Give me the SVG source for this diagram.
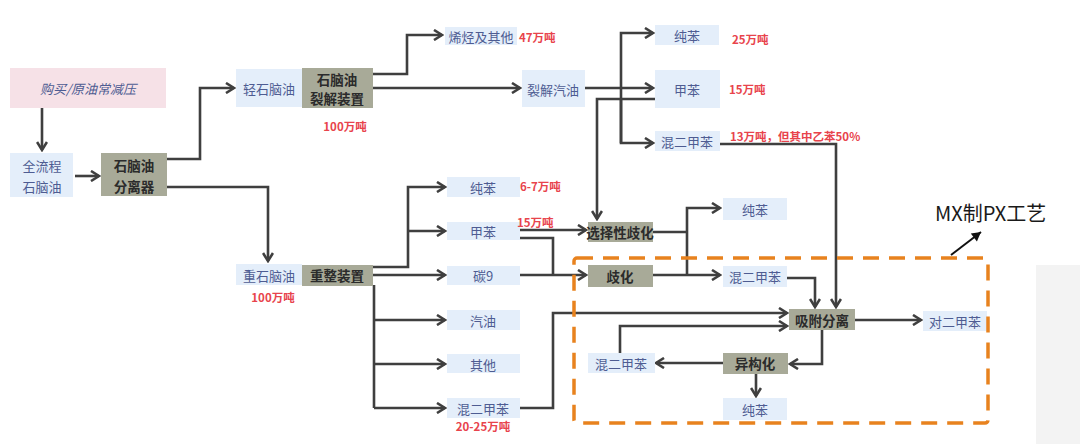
<svg xmlns="http://www.w3.org/2000/svg" width="1080" height="444" viewBox="0 0 1080 444">
<style>
.lb{fill:#e4eefa}
.gb{fill:#a8aa98}
.pk{fill:#f6e1e7}
.t{font-family:"Noto Sans CJK SC","Noto Sans",sans-serif;font-size:13px;fill:#4e5c92;text-anchor:middle;dominant-baseline:central}
.tg{font-family:"Noto Sans CJK SC","Noto Sans",sans-serif;font-size:13.5px;font-weight:bold;fill:#2b2b2b;text-anchor:middle;dominant-baseline:central}
.r{font-family:"Noto Sans CJK SC","Noto Sans",sans-serif;font-size:11.5px;font-weight:bold;fill:#e8434c;dominant-baseline:central}
.c{fill:none;stroke:#3f3f3f;stroke-width:2.6;stroke-linejoin:miter}
.a{marker-end:url(#ah)}
</style>
<defs>
<marker id="ah" markerUnits="userSpaceOnUse" viewBox="0 0 12 12" refX="10" refY="6" markerWidth="12" markerHeight="12" orient="auto">
<path d="M2,1 L10,6 L2,11" fill="none" stroke="#3f3f3f" stroke-width="2.6"/>
</marker>
<marker id="ahk" markerUnits="userSpaceOnUse" viewBox="0 0 12 12" refX="10" refY="6" markerWidth="12" markerHeight="12" orient="auto">
<path d="M1,1 L10,6 L1,11 Z" fill="#111"/>
</marker>
</defs>
<rect x="0" y="0" width="1080" height="444" fill="#ffffff"/>
<rect x="1036" y="265" width="44" height="179" fill="#f3f3f3"/>

<g id="connectors">
<path class="c a" d="M42,108 V150"/>
<path class="c a" d="M75,176 H99"/>
<path class="c a" d="M167,159 H200 V88 H234"/>
<path class="c a" d="M167,187 H268 V261"/>
<path class="c a" d="M373,74 H407 V35 H442"/>
<path class="c a" d="M373,88 H520"/>
<path class="c a" d="M585,88 H653"/>
<path class="c a" d="M621,143 V33 H653"/>
<path class="c a" d="M621,100 V143 H653"/>
<path class="c a" d="M655,99 H597 V219"/>
<path class="c a" d="M720,144 H836 V307"/>
<path class="c a" d="M373,267 H408 V187 H445"/>
<path class="c a" d="M408,231 H445"/>
<path class="c a" d="M373,275 H445"/>
<path class="c" d="M374,285 V408"/>
<path class="c a" d="M374,320 H445"/>
<path class="c a" d="M374,364 H445"/>
<path class="c a" d="M374,408 H445"/>
<path class="c a" d="M520,230 H586"/>
<path class="c" d="M520,238 H553 V275"/>
<path class="c a" d="M520,275 H586"/>
<path class="c" d="M653,232 H687"/>
<path class="c a" d="M687,275 V208 H720"/>
<path class="c a" d="M653,275 H720"/>
<path class="c a" d="M787,278 H815 V307"/>
<path class="c a" d="M520,408 H553 V313 H787"/>
<path class="c a" d="M620,353 V326 H787"/>
<path class="c a" d="M855,320 H921"/>
<path class="c a" d="M822,330 V364 H790"/>
<path class="c a" d="M723,363 H656"/>
<path class="c a" d="M756,374 V396"/>
</g>

<g id="n_src"><rect class="pk" x="10" y="68" width="156" height="40"/><text class="t" x="88" y="88" font-style="italic" font-size="14">购买/原油常减压</text></g>
<g id="n_full"><rect class="lb" x="10" y="153" width="63" height="44"/><text class="t" x="42" y="165">全流程</text><text class="t" x="42" y="186">石脑油</text></g>
<g id="n_sep"><rect class="gb" x="101" y="153" width="66" height="43"/><text class="tg" x="134" y="165">石脑油</text><text class="tg" x="134" y="186">分离器</text></g>
<g id="n_light"><rect class="lb" x="236" y="69" width="66" height="38"/><text class="t" x="269" y="88">轻石脑油</text></g>
<g id="n_crack"><rect class="gb" x="302" y="68" width="71" height="40"/><text class="tg" x="337" y="79">石脑油</text><text class="tg" x="337" y="98">裂解装置</text><text class="r" x="345" y="126" text-anchor="middle">100万吨</text></g>
<g id="n_olefin"><rect class="lb" x="445" y="27" width="72" height="18"/><text class="t" x="481" y="36">烯烃及其他</text><text class="r" x="519" y="37">47万吨</text></g>
<g id="n_pygas"><rect class="lb" x="522" y="70" width="63" height="37"/><text class="t" x="553" y="89">裂解汽油</text></g>
<g id="n_bz1"><rect class="lb" x="655" y="25" width="64" height="20"/><text class="t" x="687" y="35">纯苯</text><text class="r" x="732" y="39">25万吨</text></g>
<g id="n_tol1"><rect class="lb" x="655" y="70" width="65" height="38"/><text class="t" x="687" y="89">甲苯</text><text class="r" x="729" y="89">15万吨</text></g>
<g id="n_mx1"><rect class="lb" x="655" y="131" width="65" height="20"/><text class="t" x="687" y="141">混二甲苯</text><text class="r" x="730" y="136">13万吨，但其中乙苯50%</text></g>
<g id="n_heavy"><rect class="lb" x="236" y="264" width="66" height="21"/><text class="t" x="269" y="275">重石脑油</text><text class="r" x="273" y="297" text-anchor="middle">100万吨</text></g>
<g id="n_reform"><rect class="gb" x="302" y="265" width="71" height="21"/><text class="tg" x="337" y="275">重整装置</text></g>
<g id="n_bz2"><rect class="lb" x="447" y="177" width="73" height="20"/><text class="t" x="483" y="187">纯苯</text><text class="r" x="520" y="186">6-7万吨</text></g>
<g id="n_tol2"><rect class="lb" x="447" y="222" width="73" height="18"/><text class="t" x="483" y="231">甲苯</text><text class="r" x="517" y="222">15万吨</text></g>
<g id="n_c9"><rect class="lb" x="447" y="266" width="73" height="19"/><text class="t" x="483" y="275">碳9</text></g>
<g id="n_gas"><rect class="lb" x="447" y="310" width="73" height="20"/><text class="t" x="483" y="320">汽油</text></g>
<g id="n_other"><rect class="lb" x="447" y="354" width="73" height="19"/><text class="t" x="483" y="364">其他</text></g>
<g id="n_mx2"><rect class="lb" x="447" y="398" width="73" height="20"/><text class="t" x="483" y="408">混二甲苯</text><text class="r" x="483" y="426" text-anchor="middle">20-25万吨</text></g>
<g id="n_stdp"><rect class="gb" x="588" y="222" width="65" height="20"/><text class="tg" x="620" y="232" font-size="12.5">选择性歧化</text></g>
<g id="n_bz3"><rect class="lb" x="723" y="198" width="64" height="22"/><text class="t" x="755" y="209">纯苯</text></g>
<g id="n_disp"><rect class="gb" x="588" y="265" width="65" height="22"/><text class="tg" x="620" y="276">歧化</text></g>
<g id="n_mx3"><rect class="lb" x="723" y="266" width="64" height="21"/><text class="t" x="755" y="276">混二甲苯</text></g>
<g id="n_ads"><rect class="gb" x="789" y="309" width="66" height="21"/><text class="tg" x="822" y="320">吸附分离</text></g>
<g id="n_px"><rect class="lb" x="923" y="311" width="64" height="20"/><text class="t" x="955" y="321">对二甲苯</text></g>
<g id="n_iso"><rect class="gb" x="723" y="353" width="65" height="21"/><text class="tg" x="755" y="363">异构化</text></g>
<g id="n_mx4"><rect class="lb" x="588" y="353" width="67" height="20"/><text class="t" x="621" y="363">混二甲苯</text></g>
<g id="n_bz4"><rect class="lb" x="723" y="398" width="64" height="22"/><text class="t" x="755" y="409">纯苯</text></g>

<g id="mx_px_region">
<rect x="574" y="258" width="414" height="165" rx="3" fill="none" stroke="#e8821e" stroke-width="3.5" stroke-dasharray="16,10"/>
<path d="M951,255 L981,232" fill="none" stroke="#111" stroke-width="2" marker-end="url(#ahk)"/>
<text x="935" y="212" font-family="'Noto Sans CJK SC','Noto Sans',sans-serif" font-size="20" fill="#1a1a1a" dominant-baseline="central">MX制PX工艺</text>
</g>
</svg>
